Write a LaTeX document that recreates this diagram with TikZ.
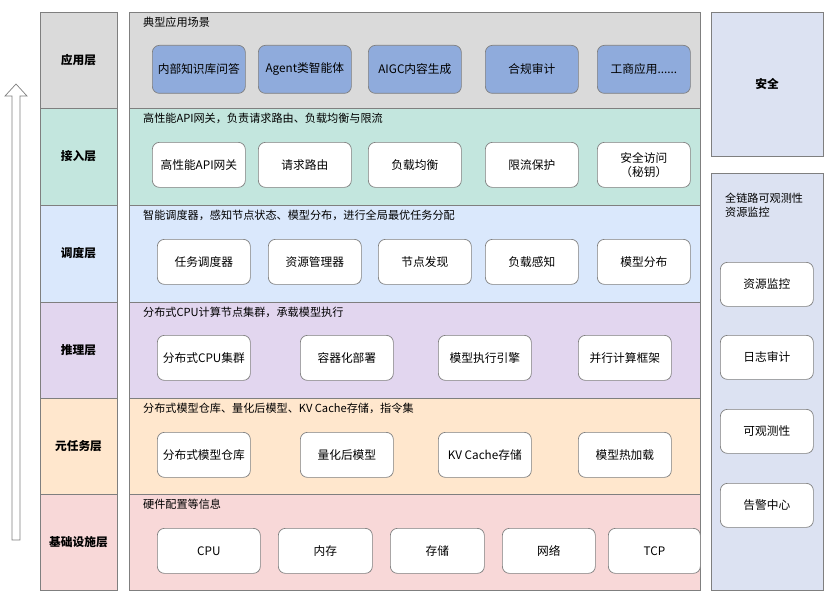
\documentclass[tikz,border=0pt]{standalone}
\usepackage{fontspec}
\setmainfont{Noto Sans CJK SC}
\usetikzlibrary{arrows.meta}
\definecolor{appc}{HTML}{DADADA}
\definecolor{accc}{HTML}{C3E6DE}
\definecolor{schc}{HTML}{DAE8FC}
\definecolor{infc}{HTML}{E2D6EF}
\definecolor{metc}{HTML}{FFE7CD}
\definecolor{basc}{HTML}{F8D8D8}
\definecolor{sidec}{HTML}{DCE2F2}
\definecolor{bluec}{HTML}{8FABDC}
\definecolor{edgec}{HTML}{7F7F7F}
\begin{document}
\begin{tikzpicture}[x=0.03cm,y=-0.03cm,
    band/.style={draw=edgec,line width=0.8pt},
    item/.style={draw=edgec,rounded corners=6pt,fill=white,line width=0.6pt,align=center,font=\fontsize{10}{12}\selectfont},
    lbl/.style={font=\fontsize{10}{12}\selectfont\bfseries},
    ttl/.style={anchor=west,font=\fontsize{9.5}{12}\selectfont}]
    \useasboundingbox (0,0) rectangle (824,593);
    % layers
    \foreach \name/\col/\ya/\yb/\txt/\head in {
      app/appc/12/108/应用层/典型应用场景,
      acc/accc/108/205/接入层/{高性能API网关，负责请求路由、负载均衡与限流},
      sch/schc/205/302/调度层/{智能调度器，感知节点状态、模型分布，进行全局最优任务分配},
      inf/infc/302/398/推理层/{分布式CPU计算节点集群，承载模型执行},
      met/metc/398/494/元任务层/{分布式模型仓库、量化后模型、KV Cache存储，指令集},
      bas/basc/494/590/基础设施层/硬件配置等信息} {
      \draw[band,fill=\col] (40,\ya) rectangle (117,\yb);
      \node[lbl] (\name-l) at (78.5,{(\ya+\yb)/2}) {\txt};
      \draw[band,fill=\col] (129,\ya) rectangle (700,\yb);
      \node[ttl] (\name-t) at (139,\ya+10) {\head};
    }
    % boxes
    \foreach \i/\x/\txt in {1/152/内部知识库问答,2/258/Agent类智能体,3/368/AIGC内容生成,4/485/合规审计,5/597/{工商应用......}}
      \node[item,fill=bluec,minimum width=93*0.03cm,minimum height=48*0.03cm,anchor=north west] (app\i) at (\x,45) {\txt};
    \foreach \i/\x/\txt in {1/152/高性能API网关,2/258/请求路由,3/368/负载均衡,4/485/限流保护,5/597/{安全访问\\（秘钥）}}
      \node[item,minimum width=93*0.03cm,minimum height=45*0.03cm,anchor=north west] (acc\i) at (\x,142) {\txt};
    \foreach \i/\x/\txt in {1/157/任务调度器,2/268/资源管理器,3/378/节点发现,4/485/负载感知,5/597/模型分布}
      \node[item,minimum width=93*0.03cm,minimum height=45*0.03cm,anchor=north west] (sch\i) at (\x,239) {\txt};
    \foreach \i/\x/\txt in {1/157/分布式CPU集群,2/300/容器化部署,3/438/模型执行引擎,4/578/并行计算框架}
      \node[item,minimum width=93*0.03cm,minimum height=45*0.03cm,anchor=north west] (inf\i) at (\x,335) {\txt};
    \foreach \i/\x/\txt in {1/157/分布式模型仓库,2/300/量化后模型,3/438/KV Cache存储,4/578/模型热加载}
      \node[item,minimum width=93*0.03cm,minimum height=45*0.03cm,anchor=north west] (met\i) at (\x,432) {\txt};
    \foreach \i/\x/\w/\txt in {1/157/103/CPU,2/278/94/内存,3/390/94/存储,4/502/93/网络,5/608/92/TCP}
      \node[item,minimum width=\w*0.03cm,minimum height=45*0.03cm,anchor=north west] (bas\i) at (\x,528) {\txt};
    % side
    \draw[band,fill=sidec] (711,12) rectangle (823,156);
    \node[lbl] (safe) at (767,84) {安全};
    \draw[band,fill=sidec] (711,173) rectangle (823,590);
    \node[ttl,align=left] (obs) at (721,205) {全链路可观测性\\资源监控};
    \foreach \i/\y/\txt in {1/262/资源监控,2/335/日志审计,3/409/可观测性,4/483/告警中心}
      \node[item,minimum width=93*0.03cm,minimum height=44*0.03cm,anchor=north west] (side\i) at (720,\y) {\txt};
    % arrow
    \coordinate (ar-b) at (16,540);
    \coordinate (ar-t) at (16,84);
    \draw[edgec,fill=white,line width=0.6pt] (12,540) -- (12,96) -- (5,96) -- (16,84) -- (27,96) -- (20,96) -- (20,540) -- cycle;
\end{tikzpicture}
\end{document}
